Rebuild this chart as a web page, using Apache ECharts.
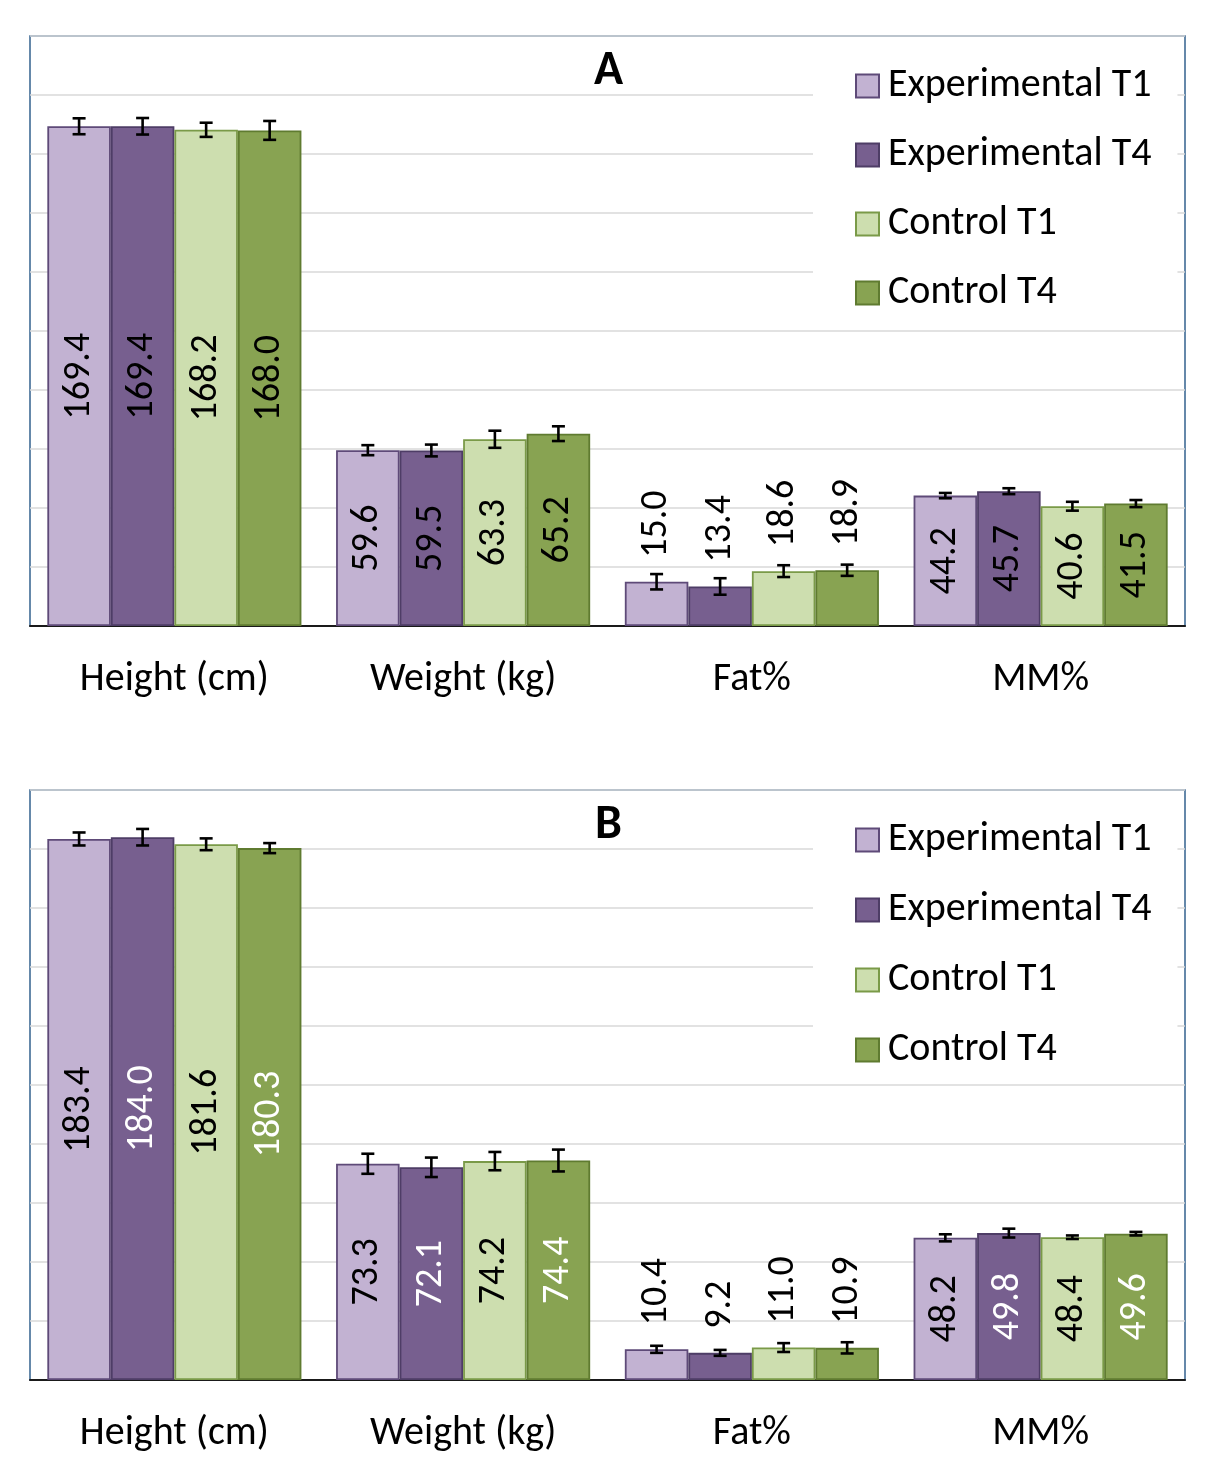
<!DOCTYPE html>
<html>
<head>
<meta charset="utf-8">
<script src="https://cdn.jsdelivr.net/npm/echarts@6/dist/echarts.min.js"></script>
<style>
html,body{margin:0;padding:0;background:#fff;}
#chart{width:1217px;height:1483px;}
</style>
</head>
<body>
<div id="chart"></div>
<script>
// ---- data ----
const categories = ['Height (cm)', 'Weight (kg)', 'Fat%', 'MM%'];
const seriesNames = ['Experimental T1', 'Experimental T4', 'Control T1', 'Control T4'];
const panelTitles = ['A', 'B'];

// Panel A means
const aExpT1 = [169.4, 59.6, 15.0, 44.2];
const aExpT4 = [169.4, 59.5, 13.4, 45.7];
const aCtrlT1 = [168.2, 63.3, 18.6, 40.6];
const aCtrlT4 = [168.0, 65.2, 18.9, 41.5];
// Panel A error (± SE)
const aExpT1Err = [2.7, 1.7, 2.6, 0.9];
const aExpT4Err = [2.8, 2.0, 2.8, 1.0];
const aCtrlT1Err = [2.4, 2.9, 2.0, 1.5];
const aCtrlT4Err = [3.2, 2.5, 1.9, 1.2];

// Panel B means
const bExpT1 = [183.4, 73.3, 10.4, 48.2];
const bExpT4 = [184.0, 72.1, 9.2, 49.8];
const bCtrlT1 = [181.6, 74.2, 11.0, 48.4];
const bCtrlT4 = [180.3, 74.4, 10.9, 49.6];
// Panel B error
const bExpT1Err = [2.2, 3.4, 1.2, 1.2];
const bExpT4Err = [2.8, 3.3, 1.0, 1.5];
const bCtrlT1Err = [2.0, 3.1, 1.5, 0.6];
const bCtrlT4Err = [1.7, 3.7, 1.9, 0.6];

const yMin = 0, yMax = 200, yInterval = 20;

// ---- styles ----
const FONT = 'Calibri, Carlito, Lato, sans-serif';
const fills = ['#C2B2D2', '#775F8F', '#CDDEAF', '#88A352'];
const borders = ['#5E4A78', '#4E3D66', '#7A9A48', '#5F7B30'];
const labelColors = [
  ['#000', '#000', '#000', '#000'],
  ['#000', '#fff', '#000', '#fff']
];
const CAT_GAP = 0.12;
const outsideCat = 'Fat%';

const panels = [
  { means: [aExpT1, aExpT4, aCtrlT1, aCtrlT4], errs: [aExpT1Err, aExpT4Err, aCtrlT1Err, aCtrlT4Err], top: 36, legendGap: 29 },
  { means: [bExpT1, bExpT4, bCtrlT1, bCtrlT4], errs: [bExpT1Err, bExpT4Err, bCtrlT1Err, bCtrlT4Err], top: 790, legendGap: 30 }
];

const grids = [], xAxes = [], yAxes = [], series = [], legends = [], titles = [];

panels.forEach((p, pi) => {
  grids.push({
    left: 30, width: 1155, top: p.top, height: 590,
    show: true, borderColor: '#33618F', borderWidth: 1.5, backgroundColor: 'transparent'
  });
  xAxes.push({
    type: 'category', gridIndex: pi, data: categories,
    axisLine: { lineStyle: { color: '#1a1a1a', width: 2 } },
    axisTick: { show: false },
    axisLabel: { color: '#000', fontFamily: FONT, fontSize: 40, margin: 34 }
  });
  yAxes.push({
    type: 'value', gridIndex: pi, min: yMin, max: yMax, interval: yInterval,
    axisLine: { show: false }, axisTick: { show: false }, axisLabel: { show: false },
    splitLine: { lineStyle: { color: '#D9D9D9', width: 1.5 } }
  });
  titles.push({
    text: panelTitles[pi], left: 'center', top: p.top + 7,
    textStyle: { fontFamily: FONT, fontSize: 48, fontWeight: 'bold', color: '#000' }
  });
  legends.push({
    orient: 'vertical', left: 813, top: p.top + 4,
    data: seriesNames,
    icon: 'rect',
    itemWidth: 23, itemHeight: 23, itemGap: p.legendGap,
    padding: [26, 26, 14, 42],
    backgroundColor: '#fff',
    textStyle: { fontFamily: FONT, fontSize: 40, lineHeight: 40, color: '#000', padding: [0, 0, 0, 4] },
    selectedMode: false
  });
  seriesNames.forEach((name, si) => {
    series.push({
      type: 'bar', name: name, xAxisIndex: pi, yAxisIndex: pi,
      barGap: '0%', barCategoryGap: (CAT_GAP * 100) + '%',
      itemStyle: { color: fills[si], borderColor: borders[si], borderWidth: 1.8 },
      label: {
        show: true, position: 'inside', rotate: 90, align: 'center', verticalAlign: 'middle',
        fontFamily: FONT, fontSize: 38, color: labelColors[pi][si],
        formatter: (d) => d.value.toFixed(1)
      },
      data: p.means[si].map((v, ci) => {
        if (categories[ci] === outsideCat) {
          return { value: v, label: { position: 'top', distance: 24, align: 'left', verticalAlign: 'middle', color: '#000' } };
        }
        return v;
      }),
      z: 2
    });
    series.push({
      type: 'custom', name: 'err', xAxisIndex: pi, yAxisIndex: pi, z: 10, silent: true,
      renderItem: function (params, api) {
        const ci = api.value(0), v = api.value(1), e = api.value(2);
        const band = api.size([1, 0])[0];
        const bw = band * (1 - CAT_GAP) / seriesNames.length;
        const cx = api.coord([ci, v])[0] + (si - (seriesNames.length - 1) / 2) * bw;
        const yt = api.coord([ci, v + e])[1], yb = api.coord([ci, v - e])[1];
        const cap = 6.5;
        const st = { stroke: '#000', lineWidth: 2.6 };
        return {
          type: 'group', children: [
            { type: 'line', shape: { x1: cx, y1: yt, x2: cx, y2: yb }, style: st },
            { type: 'line', shape: { x1: cx - cap, y1: yt, x2: cx + cap, y2: yt }, style: st },
            { type: 'line', shape: { x1: cx - cap, y1: yb, x2: cx + cap, y2: yb }, style: st }
          ]
        };
      },
      data: p.means[si].map((v, ci) => [ci, v, p.errs[si][ci]])
    });
  });
});

const chart = echarts.init(document.getElementById('chart'), null, { renderer: 'canvas' });
chart.setOption({
  animation: false,
  backgroundColor: '#fff',
  title: titles,
  grid: grids,
  xAxis: xAxes,
  yAxis: yAxes,
  legend: legends,
  series: series
});
</script>
</body>
</html>
